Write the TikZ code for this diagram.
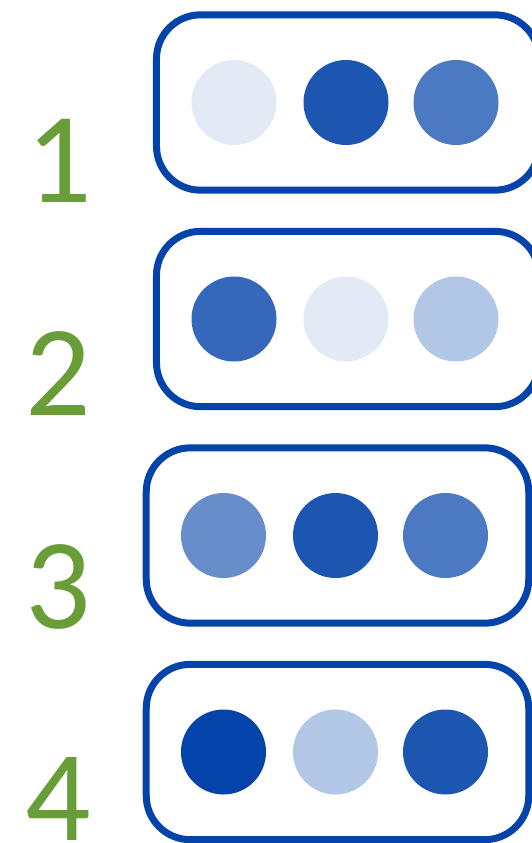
\documentclass[tikz,border=0pt]{standalone}
\usepackage{fontspec}
\setmainfont{Carlito}
\definecolor{boxblue}{RGB}{3,67,170}
\definecolor{cA}{RGB}{228,234,245}
\definecolor{cB}{RGB}{29,86,176}
\definecolor{cC}{RGB}{76,122,194}
\definecolor{cD}{RGB}{53,103,186}
\definecolor{cE}{RGB}{178,198,230}
\definecolor{cF}{RGB}{103,141,203}
\definecolor{cG}{RGB}{3,67,170}
\definecolor{numgreen}{RGB}{104,157,56}
\begin{document}
\begin{tikzpicture}[x=0.75pt,y=-0.75pt,
  panel/.style={draw=boxblue,line width=5.25pt,rectangle,rounded corners=33pt,
    minimum width=286.9pt,minimum height=131.5pt,inner sep=0pt},
  dot/.style={circle,draw=none,fill=#1,minimum size=63.75pt,inner sep=0pt},
  num/.style={anchor=base,text=numgreen,inner sep=0pt,font=\fontsize{97pt}{100pt}\selectfont}]
\useasboundingbox (0,0) rectangle (532,843);
\clip (0,0) rectangle (532,843);
% panels
\node[panel] (p1) at (347.75,102.5) {};
\node[panel] (p2) at (347.75,319) {};
\node[panel] (p3) at (337.5,535.5) {};
\node[panel] (p4) at (337.5,752) {};
% numbers
\node[num] (n1) at (59,202) {1};
\node[num] (n2) at (58,415) {2};
\node[num] (n3) at (58,628) {3};
\node[num] (n4) at (58,840) {4};
% dots row 1
\node[dot=cA] (d11) at (234,102.5) {};
\node[dot=cB] (d12) at (346,102.5) {};
\node[dot=cC] (d13) at (456,102.5) {};
% dots row 2
\node[dot=cD] (d21) at (234,319) {};
\node[dot=cA] (d22) at (346,319) {};
\node[dot=cE] (d23) at (456,319) {};
% dots row 3
\node[dot=cF] (d31) at (223.5,535.5) {};
\node[dot=cB] (d32) at (335.5,535.5) {};
\node[dot=cC] (d33) at (445.5,535.5) {};
% dots row 4
\node[dot=cG] (d41) at (223.5,752) {};
\node[dot=cE] (d42) at (335.5,752) {};
\node[dot=cB] (d43) at (445.5,752) {};
\end{tikzpicture}
\end{document}
